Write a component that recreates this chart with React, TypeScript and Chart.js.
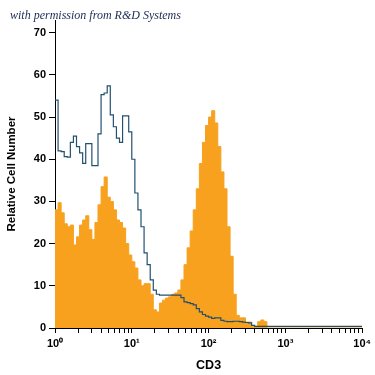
import React, { useEffect, useRef } from "react";
import { Chart, registerables } from "chart.js";

Chart.register(...registerables);

// Width of one histogram channel, in decades of the CD3 axis
const BIN_DECADES = 0.04;
const DECADES = [0, 1, 2, 3, 4];
const DECADE_LABELS = ["10⁰", "10¹", "10²", "10³", "10⁴"];
const MINOR_MULTIPLIERS = [1, 2, 3, 4, 5, 6, 7, 8, 9];

// Isotype control (open blue outline)
const isotypeCounts = [
  54, 42, 41.8, 40.6, 40.5, 44, 45.5, 43, 41.5, 39,
  43.7, 43.7, 38.5, 38.5, 46, 55.3, 55.7, 57.4, 50.5, 47.7,
  45, 44, 50.3, 50.3, 46.5, 40, 32, 28, 24, 17.8,
  15, 11.4, 9, 8, 7.8, 7.8, 7.8, 7.8, 7.8, 7.8,
  7.8, 7.2, 6.2, 6, 5.8, 5.5, 4.6, 3.8, 3.2, 2.8,
  2.6, 2.3, 2.4, 2.4, 1.8, 1.6, 1.5, 1.5, 1.6, 1.6,
  1.5, 1.4, 1.3, 1.2, 0.6, 0.4, 0.4, 0.4, 0.4, 0.4,
  0.4, 0.4, 0.4, 0.4, 0.4, 0.4, 0.4, 0.4, 0.4, 0.4,
  0.4, 0.4, 0.4, 0.4, 0.4, 0.4, 0.4, 0.4, 0.4, 0.4,
  0.4, 0.4, 0.4, 0.4, 0.4, 0.4, 0.4, 0.4, 0.4, 0.4,
];

// CD3 stained cells (filled orange)
const cd3Counts = [
  28, 29.7, 27.3, 24.7, 24, 24.4, 19.7, 21.6, 24.4, 25.6,
  26.6, 23.3, 21, 25, 29.2, 33.5, 35.8, 31, 30, 28,
  25.6, 25, 23.7, 20, 17.3, 15.7, 14.2, 11.4, 10, 10.5,
  10.5, 8, 4.3, 3.8, 5.9, 6.6, 7.1, 7.4, 8, 8.3,
  9, 11.4, 15, 19, 23, 28, 33, 39, 44, 48,
  50, 51.5, 48.6, 43, 37, 33, 24, 17, 8, 3,
  2.4, 2.4, 1.4, 1.4, 0.3, 0.3, 1.5, 1.9, 1.5, 0,
  0, 0, 0, 0, 0, 0, 0, 0, 0, 0,
  0, 0, 0, 0, 0, 0, 0, 0, 0, 0,
  0, 0, 0, 0, 0, 0, 0, 0, 0, 0,
];

const toSteps = (counts: number[]) => {
  const pts = counts.map((v, i) => ({ x: Math.pow(10, i * BIN_DECADES), y: v }));
  pts.push({ x: Math.pow(10, counts.length * BIN_DECADES), y: counts[counts.length - 1] });
  return pts;
};

export default function App() {
  const canvasRef = useRef<HTMLCanvasElement | null>(null);

  useEffect(() => {
    if (!canvasRef.current) return;
    const tickFont = { family: "'Liberation Sans', Arial, sans-serif", size: 11, weight: "bold" as const };
    const xTitleFont = { family: "'Liberation Sans', Arial, sans-serif", size: 12.5, weight: "bold" as const };
    const yTitleFont = { family: "'Liberation Sans', Arial, sans-serif", size: 11.5, weight: "bold" as const };
    const chart = new Chart(canvasRef.current, {
      type: "line",
      data: {
        datasets: [
          {
            label: "Isotype",
            data: toSteps(isotypeCounts),
            stepped: "before",
            borderColor: "#22506f",
            borderWidth: 1.2,
            pointRadius: 0,
            fill: false,
          },
          {
            label: "CD3",
            data: toSteps(cd3Counts),
            stepped: "before",
            borderColor: "#f7a11e",
            backgroundColor: "#f7a11e",
            borderWidth: 1,
            pointRadius: 0,
            fill: "origin",
          },
        ],
      },
      options: {
        animation: false,
        responsive: false,
        maintainAspectRatio: false,
        devicePixelRatio: 1,
        layout: { padding: { top: 20, right: 7, left: 0, bottom: 0 } },
        plugins: { legend: { display: false }, tooltip: { enabled: false } },
        scales: {
          x: {
            type: "logarithmic",
            min: 1,
            max: 10000,
            afterBuildTicks: (scale: any) => {
              const ticks: { value: number }[] = [];
              DECADES.slice(0, -1).forEach((d) =>
                MINOR_MULTIPLIERS.forEach((m) => ticks.push({ value: m * Math.pow(10, d) }))
              );
              ticks.push({ value: Math.pow(10, DECADES[DECADES.length - 1]) });
              scale.ticks = ticks;
            },
            afterFit: (scale: any) => {
              scale.height = 47;
            },
            ticks: {
              autoSkip: false,
              maxRotation: 0,
              padding: 4,
              color: "#000",
              font: tickFont,
              callback: (value: any) => {
                const l = Math.log10(Number(value));
                const r = Math.round(l);
                return Math.abs(l - r) < 1e-9 ? DECADE_LABELS[r] : "";
              },
            },
            grid: { drawOnChartArea: false, drawTicks: true, tickLength: 5, color: "#000", lineWidth: 1 },
            border: { display: true, color: "#000", width: 1 },
            title: { display: true, text: "CD3", color: "#000", font: xTitleFont, padding: { top: 0, bottom: 2 } },
          },
          y: {
            min: 0,
            max: 73,
            afterFit: (scale: any) => {
              scale.width = 55;
            },
            ticks: { stepSize: 10, includeBounds: false, color: "#000", font: tickFont, padding: 3 },
            grid: { drawOnChartArea: false, drawTicks: true, tickLength: 6, color: "#000", lineWidth: 1 },
            border: { display: true, color: "#000", width: 1 },
            title: {
              display: true,
              text: "Relative Cell Number",
              color: "#000",
              font: yTitleFont,
              padding: { top: 5, bottom: 0 },
            },
          },
        },
      },
    });
    return () => chart.destroy();
  }, []);

  return (
    <div style={{ position: "fixed", left: 0, top: 0, width: 375, height: 375, background: "#fff" }}>
      <canvas ref={canvasRef} width={375} height={375} style={{ width: 375, height: 375, display: "block" }} />
      <div
        style={{
          position: "absolute",
          left: 10,
          top: 8,
          fontFamily: "'Liberation Serif', 'DejaVu Serif', serif",
          fontStyle: "italic",
          fontSize: 12,
          lineHeight: "15px",
          color: "#1b2b55",
          whiteSpace: "nowrap",
        }}
      >
        with permission from R&amp;D Systems
      </div>
    </div>
  );
}
